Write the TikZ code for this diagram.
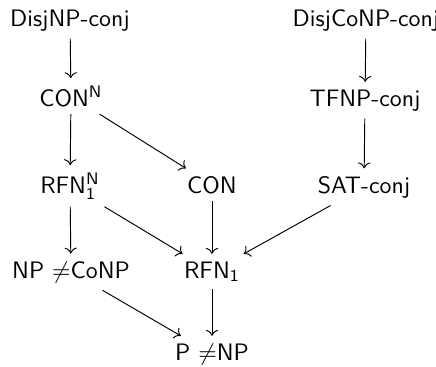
\documentclass[tikz,border=0pt]{standalone}
\usetikzlibrary{arrows.meta}
\begin{document}
\begin{tikzpicture}[x=0.42pt,y=-0.42pt,
  lbl/.style={anchor=base,font=\sffamily,inner sep=3pt},
  arr/.style={-{Computer Modern Rightarrow},line width=0.4pt}]
\useasboundingbox (0,0) rectangle (436,366);
\node[lbl] (a) at (70,26) {DisjNP-conj};
\node[lbl] (b) at (366,26) {DisjCoNP-conj};
\node[lbl] (c) at (71,106) {CON$^{\mathsf{N}}$};
\node[lbl] (d) at (365,106) {TFNP-conj};
\node[lbl] (e) at (70,193) {RFN$_{\mathsf{1}}^{\mathsf{N}}$};
\node[lbl] (f) at (212,193) {CON};
\node[lbl] (g) at (364,193) {SAT-conj};
\node[lbl] (h) at (71,278) {NP $\neq$CoNP};
\node[lbl] (i) at (212,278) {RFN$_{\mathsf{1}}$};
\node[lbl] (j) at (212,360) {P $\neq$NP};
\draw[arr] (a) -- (c);
\draw[arr] (b) -- (d);
\draw[arr] (c) -- (e);
\draw[arr] (c) -- (f);
\draw[arr] (d) -- (g);
\draw[arr] (e) -- (h);
\draw[arr] (e) -- (i);
\draw[arr] (f) -- (i);
\draw[arr] (g) -- (i);
\draw[arr] (h) -- (j);
\draw[arr] (i) -- (j);
\end{tikzpicture}
\end{document}
